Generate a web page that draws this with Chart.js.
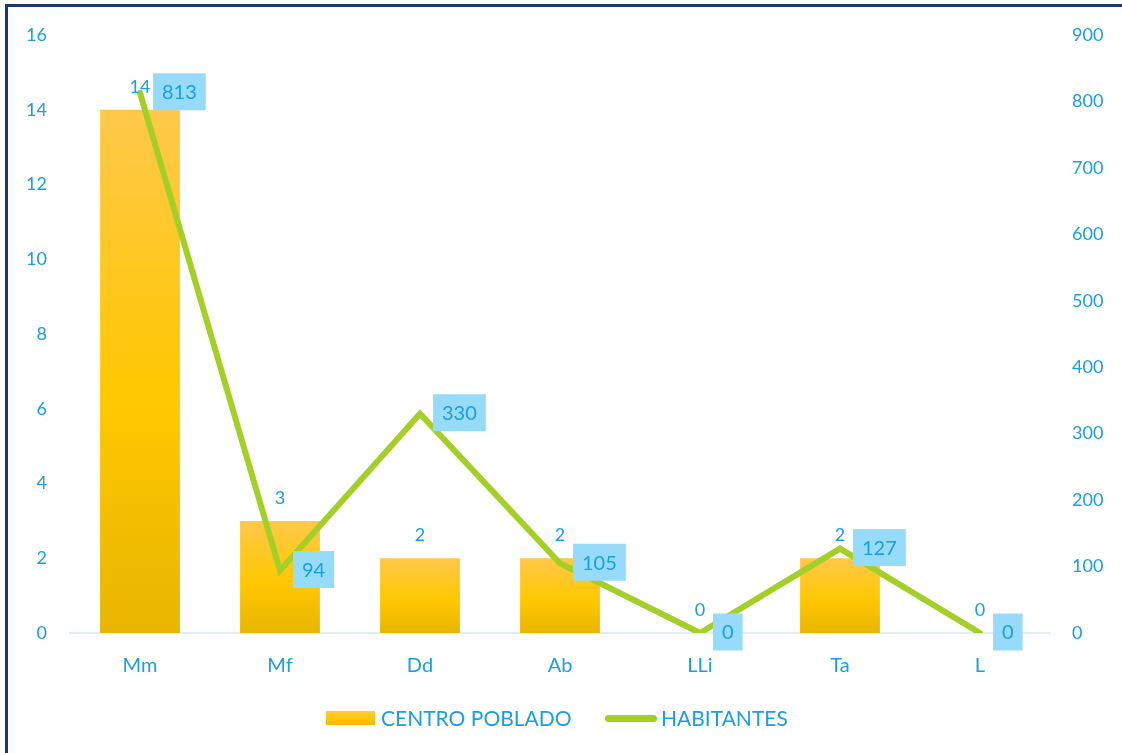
<!DOCTYPE html>
<html>
<head>
<meta charset="utf-8">
<script src="https://cdn.jsdelivr.net/npm/chart.js@4.4.1/dist/chart.umd.min.js"></script>
<style>
  html, body { margin: 0; padding: 0; background: #fff; }
  body { width: 1122px; height: 753px; position: relative; overflow: hidden; font-family: 'Lato', sans-serif; }
  .frame { position: absolute; left: 5px; top: 4px; width: 1300px; height: 900px; border-left: 3px solid #1b3570; border-top: 3px solid #1b3570; }
  .chart-box { position: absolute; left: 0; top: 0; width: 1122px; height: 753px; }
  .legend { position: absolute; top: 704px; left: 0; width: 1122px; height: 28px; font-size: 21px; color: #1a9fe0; }
  .legend__item { position: absolute; top: 0; line-height: 28px; white-space: nowrap; }
  .legend__bar { position: absolute; left: 326px; top: 7px; width: 49px; height: 14px; background: linear-gradient(#ffc84a, #ffc800 55%, #f0b800); }
  .legend__line { position: absolute; left: 605px; top: 11px; width: 52px; height: 7px; border-radius: 4px; background: #a4cf27; }
</style>
</head>
<body>
<div class="frame"></div>
<div class="chart-box"><canvas id="comboChart" width="1122" height="753"></canvas></div>
<div class="legend">
  <span class="legend__bar"></span>
  <span class="legend__item" style="left:381px">CENTRO POBLADO</span>
  <span class="legend__line"></span>
  <span class="legend__item" style="left:661px">HABITANTES</span>
</div>
<script>
// ---- Data ----
const categories = ['Mm', 'Mf', 'Dd', 'Ab', 'LLi', 'Ta', 'L'];
const centroPoblado = [14, 3, 2, 2, 0, 2, 0];
const habitantes = [813, 94, 330, 105, 0, 127, 0];
const leftTicks = [0, 2, 4, 6, 8, 10, 12, 14, 16];
const rightTicks = [0, 100, 200, 300, 400, 500, 600, 700, 800, 900];

const BLUE = '#1a9fe0';
const FONT = "'Lato', sans-serif";

// gradient per bar, from its own top to the baseline
function barGradient(ctx) {
  const chart = ctx.chart;
  const y = chart.scales.y;
  if (!y || ctx.type !== 'data') return '#ffc800';
  const top = y.getPixelForValue(ctx.raw);
  const base = y.getPixelForValue(0);
  if (!isFinite(top) || base - top < 1) return '#ffc800';
  const g = chart.ctx.createLinearGradient(0, top, 0, base);
  g.addColorStop(0, '#ffc84a');
  g.addColorStop(0.55, '#ffc800');
  g.addColorStop(1, '#e8b500');
  return g;
}

// ---- Value labels ----
const valueLabels = {
  id: 'valueLabels',
  afterDatasetsDraw(chart) {
    const ctx = chart.ctx;
    ctx.save();
    ctx.textBaseline = 'middle';
    // bar labels above bars
    const barMeta = chart.getDatasetMeta(0);
    ctx.font = '18px ' + FONT;
    ctx.fillStyle = BLUE;
    ctx.textAlign = 'center';
    barMeta.data.forEach((el, i) => {
      ctx.fillText(String(centroPoblado[i]), el.x, el.y - 23);
    });
    // line labels in boxes right of the points
    const lineMeta = chart.getDatasetMeta(1);
    ctx.font = '20px ' + FONT;
    ctx.textAlign = 'left';
    lineMeta.data.forEach((pt, i) => {
      const txt = String(habitantes[i]);
      const w = ctx.measureText(txt).width + 18;
      const h = 37;
      const bx = pt.x + 13;
      const by = pt.y - h / 2 - 1;
      ctx.fillStyle = '#97dbfa';
      ctx.fillRect(bx, by, w, h);
      ctx.fillStyle = BLUE;
      ctx.fillText(txt, bx + 9, by + h / 2 + 1);
    });
    ctx.restore();
  }
};

Chart.defaults.font.family = FONT;
Chart.defaults.color = BLUE;

new Chart(document.getElementById('comboChart'), {
  data: {
    labels: categories,
    datasets: [
      {
        type: 'bar',
        label: 'CENTRO POBLADO',
        data: centroPoblado,
        backgroundColor: barGradient,
        yAxisID: 'y',
        order: 1,
        barPercentage: 0.57,
        categoryPercentage: 1
      },
      {
        type: 'line',
        label: 'HABITANTES',
        data: habitantes,
        borderColor: '#a4cf27',
        borderWidth: 6,
        borderCapStyle: 'round',
        borderJoinStyle: 'miter',
        pointRadius: 0,
        tension: 0,
        yAxisID: 'y2',
        order: 0
      }
    ]
  },
  options: {
    responsive: false,
    animation: false,
    layout: { padding: { top: 35, bottom: 60, left: 0, right: 0 } },
    plugins: { legend: { display: false }, tooltip: { enabled: false } },
    scales: {
      x: {
        grid: { display: false },
        border: { display: true, color: '#ddeffa', width: 2 },
        ticks: { color: BLUE, font: { size: 20 }, padding: 13 },
        afterFit: s => { s.height = 60; }
      },
      y: {
        position: 'left',
        min: leftTicks[0],
        max: leftTicks[leftTicks.length - 1],
        afterBuildTicks: s => { s.ticks = leftTicks.map(v => ({ value: v })); },
        grid: { display: false },
        border: { display: false },
        ticks: { color: BLUE, font: { size: 18 }, padding: 15 },
        afterFit: s => { s.width = 70; }
      },
      y2: {
        position: 'right',
        min: rightTicks[0],
        max: rightTicks[rightTicks.length - 1],
        afterBuildTicks: s => { s.ticks = rightTicks.map(v => ({ value: v })); },
        grid: { display: false },
        border: { display: false },
        ticks: { color: BLUE, font: { size: 18 }, padding: 14 },
        afterFit: s => { s.width = 72; }
      }
    }
  },
  plugins: [valueLabels]
});
</script>
</body>
</html>
